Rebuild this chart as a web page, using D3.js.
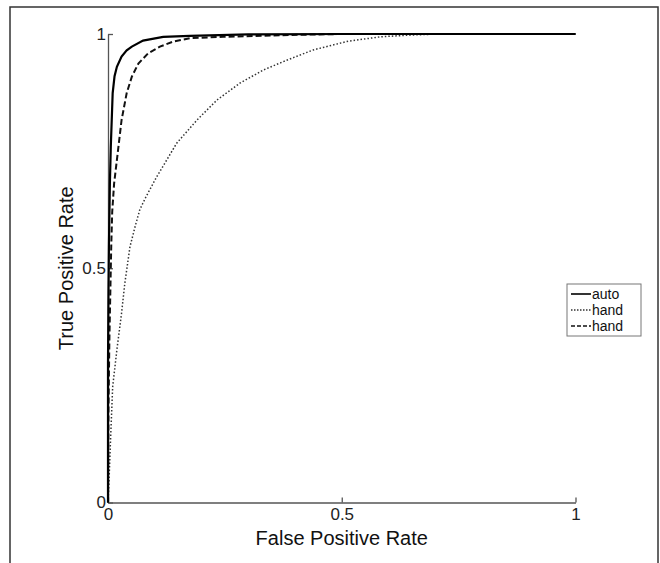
<!DOCTYPE html>
<html>
<head>
<meta charset="utf-8">
<script src="https://cdn.jsdelivr.net/npm/d3@7"></script>
<style>
  body { margin: 0; background: #fff; }
  svg { display: block; font-family: "Liberation Sans", Arial, sans-serif; }
</style>
</head>
<body>
<svg id="roc" width="660" height="563"></svg>
<script>
// ROC curves: auto vs two hand-made detectors

// auto (solid)
const autoFpr = [0, 0.000, 0.001, 0.002, 0.004, 0.006, 0.010, 0.014, 0.019, 0.029, 0.040, 0.051, 0.075, 0.118, 0.175, 0.30, 0.50, 1];
const autoTpr = [0, 0.30, 0.45, 0.55, 0.68, 0.76, 0.874, 0.910, 0.930, 0.952, 0.965, 0.973, 0.986, 0.994, 0.996, 0.999, 1, 1];

// hand (dotted)
const handDotFpr = [0, 0.002, 0.006, 0.010, 0.019, 0.029, 0.036, 0.047, 0.058, 0.068, 0.080, 0.104, 0.147, 0.190, 0.233, 0.282, 0.332, 0.382, 0.439, 0.511, 0.582, 0.652, 0.71, 1];
const handDotTpr = [0, 0.042, 0.148, 0.247, 0.326, 0.404, 0.468, 0.546, 0.589, 0.625, 0.650, 0.695, 0.767, 0.816, 0.859, 0.895, 0.923, 0.944, 0.966, 0.984, 0.994, 0.998, 1, 1];

// hand (dashed)
const handDashFpr = [0, 0.001, 0.003, 0.005, 0.007, 0.009, 0.013, 0.019, 0.029, 0.040, 0.051, 0.065, 0.086, 0.111, 0.140, 0.175, 0.246, 0.389, 0.50, 1];
const handDashTpr = [0, 0.20, 0.35, 0.45, 0.55, 0.62, 0.68, 0.731, 0.816, 0.874, 0.909, 0.937, 0.959, 0.973, 0.984, 0.991, 0.994, 0.998, 1, 1];

const xTicks = [0, 0.5, 1];
const yTicks = [0, 0.5, 1];
const legendLabels = ['auto', 'hand', 'hand'];

const svg = d3.select('#roc');

// outer figure frame (bottom edge runs off the picture)
svg.append('rect')
  .attr('x', 10).attr('y', 7)
  .attr('width', 648).attr('height', 600)
  .attr('fill', 'none')
  .attr('stroke', '#333')
  .attr('stroke-width', 1.5);

const x = d3.scaleLinear().domain([0, 1]).range([108, 575.5]);
const y = d3.scaleLinear().domain([0, 1]).range([502.5, 34]);

// axes, MATLAB style: ticks pointing inward, no box
const axisColor = '#555';
const xAxis = svg.append('g')
  .attr('transform', `translate(0,${y(0)})`)
  .call(d3.axisBottom(x).tickValues(xTicks).tickSize(-5).tickSizeOuter(0).tickFormat(d3.format('')));
const yAxis = svg.append('g')
  .attr('transform', `translate(${x(0)},0)`)
  .call(d3.axisLeft(y).tickValues(yTicks).tickSize(-5).tickSizeOuter(0).tickFormat(d3.format('')));

[xAxis, yAxis].forEach(g => {
  g.select('.domain').attr('stroke', axisColor).attr('stroke-width', 1.3);
  g.selectAll('.tick line').attr('stroke', axisColor).attr('stroke-width', 1.3);
  g.selectAll('.tick text')
    .attr('fill', '#222')
    .attr('font-size', 17)
    .attr('font-family', '"Liberation Sans", Arial, sans-serif');
});
xAxis.selectAll('.tick text').attr('y', 5).attr('dy', '0.71em');
yAxis.selectAll('.tick text').attr('x', -2).attr('dy', '0.32em');

// axis titles
svg.append('text')
  .attr('x', x(0.5)).attr('y', 545)
  .attr('text-anchor', 'middle')
  .attr('font-size', 20)
  .attr('fill', '#111')
  .text('False Positive Rate');

svg.append('text')
  .attr('transform', `translate(73,${y(0.5)}) rotate(-90)`)
  .attr('text-anchor', 'middle')
  .attr('font-size', 20)
  .attr('fill', '#111')
  .text('True Positive Rate');

// curves
const line = d3.line().x(d => x(d[0])).y(d => y(d[1]));
const series = [
  { fpr: handDotFpr, tpr: handDotTpr, color: '#333', width: 1.5, dash: '1.5,2' },
  { fpr: handDashFpr, tpr: handDashTpr, color: '#111', width: 2, dash: '6,3' },
  { fpr: autoFpr, tpr: autoTpr, color: '#000', width: 2.2, dash: null }
];

svg.append('g')
  .selectAll('path')
  .data(series)
  .join('path')
    .attr('d', s => line(d3.zip(s.fpr, s.tpr)))
    .attr('fill', 'none')
    .attr('stroke', s => s.color)
    .attr('stroke-width', s => s.width)
    .attr('stroke-dasharray', s => s.dash);

// legend
const legendStyles = [series[2], series[0], series[1]];
const legend = svg.append('g').attr('transform', 'translate(567,284)');
legend.append('rect')
  .attr('width', 74).attr('height', 52)
  .attr('fill', '#fff')
  .attr('stroke', '#777')
  .attr('stroke-width', 1);

const item = legend.selectAll('g.item')
  .data(legendLabels)
  .join('g')
    .attr('class', 'item')
    .attr('transform', (d, i) => `translate(0,${10 + i * 16})`);

item.append('line')
  .attr('x1', 4).attr('x2', 24)
  .attr('stroke', (d, i) => legendStyles[i].color)
  .attr('stroke-width', (d, i) => Math.min(legendStyles[i].width, 1.6))
  .attr('stroke-dasharray', (d, i) => legendStyles[i].dash ? (i === 1 ? '1.5,1.5' : '4,2') : null);

item.append('text')
  .attr('x', 25)
  .attr('dy', '0.35em')
  .attr('font-size', 14)
  .attr('fill', '#111')
  .text(d => d);
</script>
</body>
</html>
